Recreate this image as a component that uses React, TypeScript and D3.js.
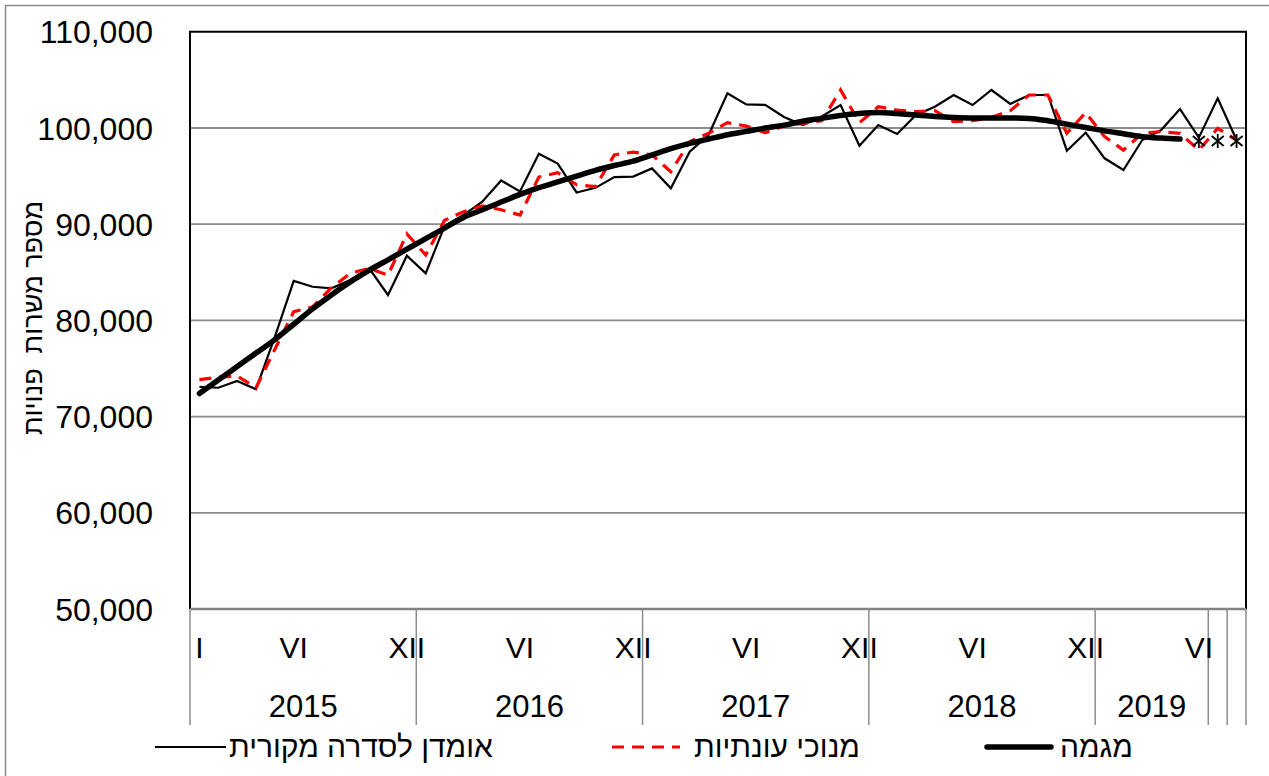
import * as d3 from 'd3'

const W = 1269
const H = 776

// x-axis groups (year) and number of months in each
const years = ['2015', '2016', '2017', '2018', '2019', '', '']
const groupSizes = [12, 12, 12, 12, 6, 1, 1]

// month labels shown under each category (empty = no label)
const monthLabels = [
  'I', '', '', '', '', 'VI', '', '', '', '', '', 'XII',
  '', '', '', '', '', 'VI', '', '', '', '', '', 'XII',
  '', '', '', '', '', 'VI', '', '', '', '', '', 'XII',
  '', '', '', '', '', 'VI', '', '', '', '', '', 'XII',
  '', '', '', '', '', 'VI',
  '',
  '',
]

const original = [
  73100, 73000, 73700, 72850, 78300, 84100, 83500, 83330, 84200, 85420, 82640, 86730,
  84900, 89800, 90950, 92340, 94550, 93400, 97330, 96300, 93300, 93780, 94900, 94950,
  95800, 93730, 97540, 99270, 103600, 102450, 102400, 101150, 100310, 101200, 102390, 98150,
  100310, 99380, 101350, 102210, 103430, 102390, 103950, 102500, 103430, 103430, 97640, 99510,
  96850, 95630, 98750, 99790, 101970, 99000,
  103090,
  98750,
]

const adjusted = [
  73850, 74100, 74220, 73000, 77000, 80900, 81400, 83400, 84900, 85400, 84700, 89000,
  86800, 90400, 91300, 91900, 91500, 90950, 94900, 95350, 94100, 93900, 97200, 97500,
  97200, 95460, 98580, 99450, 100550, 100200, 99510, 100200, 100480, 100760, 103950, 100550,
  102210, 101870, 101700, 101800, 100660, 100760, 101100, 101800, 103430, 103430, 99450, 101600,
  99100, 97700, 99450, 99620, 99450, 97700,
  99970,
  98750,
]

const trend = [
  72400, 73800, 75200, 76600, 78000, 79600, 81200, 82650, 84000, 85200, 86300, 87400,
  88500, 89600, 90700, 91500, 92300, 93100, 93800, 94400, 95000, 95600, 96100, 96550,
  97200, 97850, 98400, 98850, 99300, 99650, 100000, 100300, 100700, 101000, 101300, 101500,
  101600, 101500, 101350, 101200, 101100, 101050, 101050, 101050, 101000, 100750, 100400, 100050,
  99700, 99400, 99100, 98950, 98850,
]

// provisional estimates (asterisk markers)
const provisionalIdx = [53, 54, 55]
const provisionalVal = [98650, 98650, 98650]

const yTicks = [50000, 60000, 70000, 80000, 90000, 100000, 110000]

const legendLabels = ['אומדן לסדרה מקורית', 'מנוכי עונתיות', 'מגמה']
const yTitle = 'מספר משרות  פנויות'

const FONT = '"Liberation Sans", Arial, sans-serif'

export default function App() {
  const left = 190
  const right = 1246
  const top = 31.8
  const bottom = 609

  const n = original.length
  const idx = d3.range(n)
  const x = d3.scaleBand<number>().domain(idx).range([left, right]).padding(0)
  const cx = (i: number) => (x(i) ?? 0) + x.bandwidth() / 2
  const y = d3.scaleLinear().domain([50000, 110000]).range([bottom, top])

  const line = d3.line<number>().x((_, i) => cx(i)).y(d => y(d))
  const trendLine = d3.line<number>().x((_, i) => cx(i)).y(d => y(d)).curve(d3.curveMonotoneX)

  // group boundaries
  const bounds: number[] = [0]
  groupSizes.forEach(s => bounds.push(bounds[bounds.length - 1] + s))
  const bx = (k: number) => (k >= n ? right : (x(k) ?? 0))

  const fmt = d3.format(',')

  const star = 'M0,-7L0,7M-6,-5L6,5M-6,5L6,-5'

  return (
    <svg width={W} height={H} style={{ position: 'absolute', left: 0, top: 0, background: '#fff' }}
      fontFamily={FONT}>
      <rect x={5.5} y={5.5} width={1300} height={800} fill="#fff" stroke="#8c8c8c" strokeWidth={1.5} />

      {/* gridlines */}
      {yTicks.slice(1, -1).map(t => (
        <line key={t} x1={left} x2={right} y1={y(t)} y2={y(t)} stroke="#8c8c8c" strokeWidth={1.8} />
      ))}

      {/* y tick labels */}
      {yTicks.map(t => (
        <text key={t} x={153} y={y(t)} dy="0.36em" textAnchor="end" fontSize={32} fill="#000">
          {fmt(t)}
        </text>
      ))}

      {/* y title */}
      <text transform={`translate(42,318) rotate(-90)`} textAnchor="middle" fontSize={27}
        style={{ whiteSpace: 'pre' }}>{yTitle}</text>

      {/* plot frame */}
      <path d={`M${left},${bottom}V${top}H${right}V${bottom}`} fill="none" stroke="#000" strokeWidth={2} />
      <line x1={left} x2={right} y1={bottom} y2={bottom} stroke="#808080" strokeWidth={2.5} />

      {/* category separators */}
      {bounds.map((b, k) => (
        <line key={k} x1={bx(b)} x2={bx(b)} y1={bottom} y2={725} stroke="#8c8c8c" strokeWidth={1.5} />
      ))}

      {/* month labels */}
      {monthLabels.map((m, i) => m ? (
        <text key={i} x={cx(i)} y={658} textAnchor="middle" fontSize={30}>{m}</text>
      ) : null)}

      {/* year labels */}
      {years.map((yr, k) => yr ? (
        <text key={k} x={(bx(bounds[k]) + bx(bounds[k + 1])) / 2} y={717} textAnchor="middle" fontSize={31}>{yr}</text>
      ) : null)}

      {/* series */}
      <path d={line(original) ?? ''} fill="none" stroke="#000" strokeWidth={2.2} strokeLinejoin="miter" />
      <path d={line(adjusted) ?? ''} fill="none" stroke="#ff0000" strokeWidth={3.2} strokeDasharray="12 8" />
      <path d={trendLine(trend) ?? ''} fill="none" stroke="#000" strokeWidth={5.5} strokeLinecap="round" />
      {provisionalIdx.map((k, j) => (
        <path key={k} d={star} transform={`translate(${cx(k)},${y(provisionalVal[j])})`} stroke="#000" strokeWidth={1.8} fill="none" />
      ))}

      {/* legend */}
      <g fontSize={30}>
        <line x1={155} x2={226} y1={747} y2={747} stroke="#000" strokeWidth={2.2} />
        <text x={229} y={757} textAnchor="start">{legendLabels[0]}</text>
        <line x1={612} x2={680} y1={747} y2={747} stroke="#ff0000" strokeWidth={3.2} strokeDasharray="12 8" />
        <text x={694} y={757} textAnchor="start">{legendLabels[1]}</text>
        <line x1={987} x2={1051} y1={747} y2={747} stroke="#000" strokeWidth={5.5} strokeLinecap="round" />
        <text x={1060} y={757} textAnchor="start">{legendLabels[2]}</text>
      </g>
    </svg>
  )
}
